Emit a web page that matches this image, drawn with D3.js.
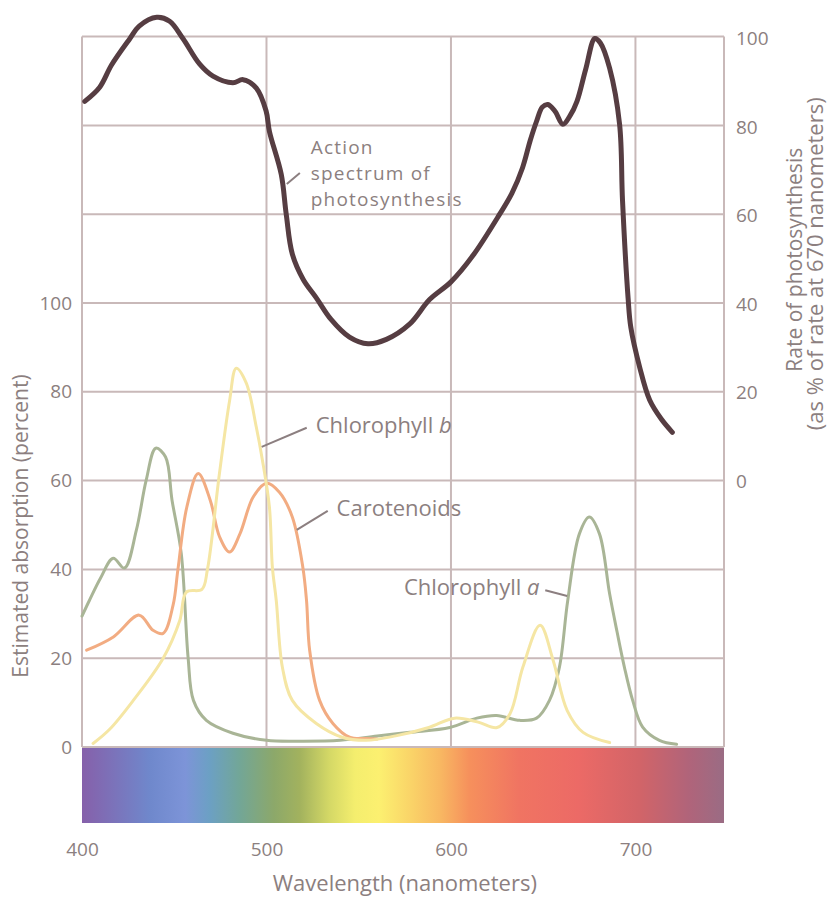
<!DOCTYPE html>
<html>
<head>
<meta charset="utf-8">
<script src="https://cdn.jsdelivr.net/npm/d3@7"></script>
<style>
  body { margin: 0; background: #fff; }
  text { font-family: "Open Sans", sans-serif; fill: #8c7f80; }
</style>
</head>
<body>
<div id="chart"></div>
<script>
// Data: [wavelength nm, value]
// action spectrum uses the right axis (% of rate at 670 nm)
const actionSpectrum = [
  [401.5, 85.8], [409.6, 89], [416, 94], [426, 100], [431, 102.8], [440.5, 104.8],
  [447.5, 103.9], [454.7, 100], [463.8, 94.2], [471, 91.5], [481.8, 90], [487.3, 90.7],
  [494.5, 88.8], [499.8, 83.6], [501.6, 79], [508, 69.3], [510.7, 60.3], [514, 51.3],
  [520, 45.5], [527, 41.4], [535, 36.5], [545, 32.5], [555, 31], [565, 32], [577.7, 35.5],
  [588.4, 41], [600, 45], [612, 51], [626.4, 60.3], [633, 65], [638.8, 70.8], [643, 77],
  [646.4, 81.3], [649.5, 84.5], [652.5, 85.1], [656.5, 83.5], [660.7, 80.6], [664.5, 82.5],
  [668.3, 85.8], [673, 93], [678, 100], [681, 99], [686, 93.3], [691.4, 80.6], [693, 63.3],
  [696, 41.4], [697.5, 34.7], [702.3, 25.7], [707.7, 18.3], [714, 14], [720, 11]
];

// absorption curves use the left axis (percent)
const chlorophyllA = [
  [400, 29.5], [404, 33], [410, 38], [416.9, 42.5], [423, 40.3], [429.5, 48.9], [434.8, 60.1],
  [440, 67.3], [445.3, 65.3], [448.8, 55.6], [453.8, 43.6], [457.5, 20.2], [460.4, 10.5],
  [467.4, 6], [481.8, 3.1], [500, 1.5], [518, 1.3], [540, 1.5], [560, 2.5], [577.7, 3.3],
  [599.4, 4.4], [614, 6.5], [624.7, 7.1], [637.3, 6], [646.4, 6.5], [653.4, 10.5], [658.8, 18],
  [663.3, 33], [669.6, 48], [675, 51.8], [680.5, 48], [686, 34.5], [690, 26], [694, 18],
  [698.5, 10.5], [703.9, 4.5], [713, 1.5], [722.3, 0.6]
];

const chlorophyllB = [
  [406, 0.8], [415, 4], [427.8, 10.5], [444, 20], [453, 28.5], [456.6, 34.9], [465, 35.5],
  [468, 40], [474.5, 61.6], [480, 78], [483.6, 85.3], [489, 82], [494.5, 72], [497.8, 64.6],
  [501.6, 54], [503.2, 40.5], [505.3, 33], [508.6, 18], [514, 10.5], [527, 5.3], [541, 2.2],
  [554, 1.5], [570, 2.5], [588, 4.4], [602, 6.5], [614.7, 5.6], [625, 4.4], [632, 7.5],
  [639, 18], [648.3, 27.4], [655.4, 19.5], [663, 8.2], [671.6, 3.3], [686, 1]
];

const carotenoids = [
  [402.5, 21.8], [417, 24.8], [431, 29.7], [438.5, 26.3], [444, 25.6], [449.4, 32], [452, 40],
  [456.8, 54], [463, 61.6], [469.5, 55.6], [474.6, 47.3], [480, 43.9], [485.6, 48],
  [492.8, 56.3], [500, 59.4], [507, 57.4], [514, 51.8], [519.7, 40.5], [521.7, 33],
  [523.4, 21.8], [528.8, 10.5], [536, 5.3], [545, 2.2], [554, 1.9], [560, 1.8]
];

const xTicks = [400, 500, 600, 700];
const leftTicks = [0, 20, 40, 60, 80, 100];
const rightTicks = [0, 20, 40, 60, 80, 100];
const gridLevels = [0, 20, 40, 60, 80, 100, 120, 140, 160]; // in left-axis units

// visible spectrum band colours by wavelength
const spectrumStops = [
  [400, "#8660aa"], [437, "#6f88cc"], [456, "#7d94d8"], [469, "#6ca0c4"], [485, "#72a698"],
  [504, "#8ca86a"], [518, "#a2b25e"], [534, "#d4d866"], [548, "#f4ee6e"], [561, "#fcf070"],
  [578, "#fad468"], [594, "#f8b862"], [610, "#f6905c"], [637, "#f07462"], [669, "#ec6a66"],
  [702, "#d26468"], [729, "#b0647a"], [748, "#9a6c84"]
];

const width = 831, height = 897;

const svg = d3.select("#chart")
  .append("svg")
  .attr("width", width)
  .attr("height", height);

const x = d3.scaleLinear().domain([400, 748]).range([82, 724]);
const yLeft = d3.scaleLinear().domain([0, 100]).range([747, 303]);
const yRight = d3.scaleLinear().domain([0, 100]).range([481, 38.5]);

const gridColor = "#c9b9b9";
const textColor = "#8c7f80";

// spectrum bar
const grad = svg.append("defs").append("linearGradient")
  .attr("id", "spectrum")
  .attr("x1", "0%").attr("x2", "100%");
grad.selectAll("stop")
  .data(spectrumStops)
  .enter().append("stop")
  .attr("offset", d => (d[0] - 400) / (748 - 400))
  .attr("stop-color", d => d[1]);

svg.append("rect")
  .attr("x", x(400))
  .attr("y", yLeft(0))
  .attr("width", x(748) - x(400))
  .attr("height", 76)
  .attr("fill", "url(#spectrum)");

// grid
const grid = svg.append("g")
  .attr("stroke", gridColor)
  .attr("stroke-width", 2);

grid.selectAll(".h")
  .data(gridLevels)
  .enter().append("line")
  .attr("x1", x(400)).attr("x2", x(748))
  .attr("y1", d => yLeft(d)).attr("y2", d => yLeft(d));

grid.selectAll(".v")
  .data(xTicks.concat([748]))
  .enter().append("line")
  .attr("x1", d => x(d)).attr("x2", d => x(d))
  .attr("y1", yLeft(160)).attr("y2", yLeft(0));

// axes (labels only)
const leftAxis = svg.append("g")
  .attr("transform", `translate(${x(400) - 10},0)`)
  .call(d3.axisLeft(yLeft).tickValues(leftTicks).tickSize(0).tickPadding(0));
const rightAxis = svg.append("g")
  .attr("transform", `translate(${x(748) + 12},0)`)
  .call(d3.axisRight(yRight).tickValues(rightTicks).tickSize(0).tickPadding(0));
const bottomAxis = svg.append("g")
  .attr("transform", `translate(0,${yLeft(0) + 95})`)
  .call(d3.axisBottom(x).tickValues(xTicks).tickSize(0).tickPadding(0));

[leftAxis, rightAxis, bottomAxis].forEach(a => {
  a.select(".domain").remove();
  a.selectAll("text")
    .attr("fill", textColor)
    .style("font-size", "19px")
    .style("font-family", "'Open Sans', sans-serif");
});

// axis titles
svg.append("text")
  .attr("transform", `translate(28,${yLeft(50) + 1}) rotate(-90)`)
  .attr("text-anchor", "middle")
  .style("font-size", "21px")
  .text("Estimated absorption (percent)");

svg.append("text")
  .attr("transform", `translate(802,${yRight(50)}) rotate(-90)`)
  .attr("text-anchor", "middle")
  .style("font-size", "21px")
  .text("Rate of photosynthesis");

svg.append("text")
  .attr("transform", `translate(823,${yRight(50) + 4}) rotate(-90)`)
  .attr("text-anchor", "middle")
  .style("font-size", "22px")
  .text("(as % of rate at 670 nanometers)");

svg.append("text")
  .attr("x", x(575))
  .attr("y", 891)
  .attr("text-anchor", "middle")
  .style("font-size", "22px")
  .text("Wavelength (nanometers)");

// curves
const lineLeft = d3.line()
  .x(d => x(d[0]))
  .y(d => yLeft(d[1]))
  .curve(d3.curveCatmullRom.alpha(0.5));

const lineRight = d3.line()
  .x(d => x(d[0]))
  .y(d => yRight(d[1]))
  .curve(d3.curveCatmullRom.alpha(0.5));

const series = [
  { data: chlorophyllA, color: "#a9b596" },
  { data: carotenoids, color: "#f2ac82" },
  { data: chlorophyllB, color: "#f5e6a4" }
];

series.forEach(s => {
  svg.append("path")
    .datum(s.data)
    .attr("d", lineLeft)
    .attr("fill", "none")
    .attr("stroke", s.color)
    .attr("stroke-width", 3)
    .attr("stroke-linejoin", "round")
    .attr("stroke-linecap", "round");
});

svg.append("path")
  .datum(actionSpectrum)
  .attr("d", lineRight)
  .attr("fill", "none")
  .attr("stroke", "#563d42")
  .attr("stroke-width", 5)
  .attr("stroke-linejoin", "round")
  .attr("stroke-linecap", "round");

// annotations: leader lines and labels in data units
const leaders = [
  { from: [511, 67.1], to: [518.1, 69.6], y: yRight },
  { from: [497.4, 67.6], to: [521.8, 71.9], y: yLeft },
  { from: [516.4, 48.9], to: [533.2, 53.2], y: yLeft },
  { from: [651.1, 35.3], to: [663, 34], y: yLeft }
];

svg.selectAll(".leader")
  .data(leaders)
  .enter().append("line")
  .attr("x1", d => x(d.from[0])).attr("y1", d => d.y(d.from[1]))
  .attr("x2", d => x(d.to[0])).attr("y2", d => d.y(d.to[1]))
  .attr("stroke", textColor)
  .attr("stroke-width", 2);

const labelSize = "22px";

// action label: three separate lines
["Action", "spectrum of", "photosynthesis"].forEach((t, i) => {
  svg.append("text")
    .attr("x", x(524))
    .attr("y", yRight(73.8) + i * 26)
    .style("font-size", "19px")
    .style("letter-spacing", "1.2px")
    .text(t);
});

const chlB = svg.append("text")
  .attr("x", x(526.7))
  .attr("y", yLeft(70.8))
  .style("font-size", labelSize);
chlB.append("tspan").text("Chlorophyll ");
chlB.append("tspan").style("font-style", "italic").text("b");

svg.append("text")
  .attr("x", x(538))
  .attr("y", yLeft(52))
  .style("font-size", labelSize)
  .text("Carotenoids");

const chlA = svg.append("text")
  .attr("x", x(648))
  .attr("y", yLeft(34.2))
  .attr("text-anchor", "end")
  .style("font-size", labelSize);
chlA.append("tspan").text("Chlorophyll ");
chlA.append("tspan").style("font-style", "italic").text("a");
</script>
</body>
</html>
